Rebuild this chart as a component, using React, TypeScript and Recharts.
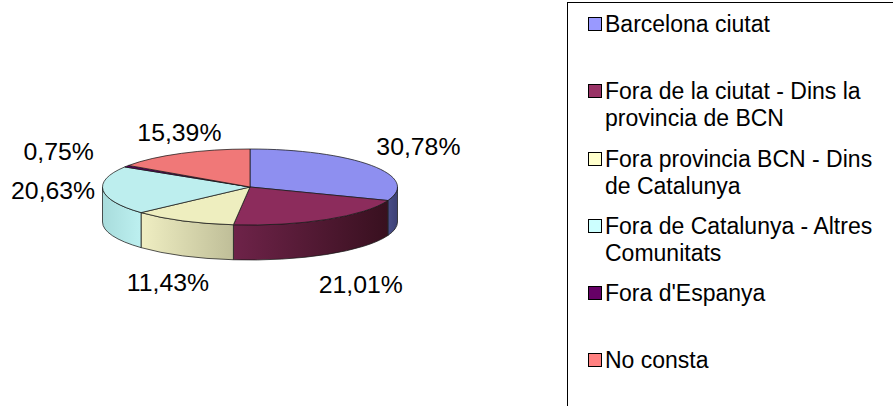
import React from 'react';
import { PieChart, Pie, Legend } from 'recharts';

const categories = [
  'Barcelona ciutat',
  'Fora de la ciutat - Dins la provincia de BCN',
  'Fora provincia BCN - Dins de Catalunya',
  'Fora de Catalunya - Altres Comunitats',
  "Fora d'Espanya",
  'No consta',
];
const shares = [30.78, 21.01, 11.43, 20.63, 0.75, 15.39];

const topColors = ['#8e8ff0', '#8c2c5c', '#eeeebf', '#bdeeee', '#5c005c', '#f07878'];
const legendColors = ['#9999ff', '#993366', '#ffffcc', '#ccffff', '#660066', '#ff8080'];
// wall shading, left to right
const wallColors = [
  ['#4a4e88', '#3c4074'],
  ['#6e2349', '#38101f'],
  ['#efeec2', '#bfbe98'],
  ['#a8dcdc', '#bdf0f0'],
  ['#3a003a', '#3a003a'],
  ['#903030', '#903030'],
];
// how far each percentage sits from the rim of the pie
const labelNudge = [
  [47, -19],
  [34, 65],
  [-15, 62],
  [-50, 0],
  [-68, -15],
  [-2, -21],
];

const data = categories.map((name, i) => ({ name, value: shares[i] }));

const CX = 250;
const CY = 187;
const RX = 147.5;
const RY = 38;
const DEPTH = 35;
const FONT = '"Liberation Sans", Arial, sans-serif';

const rad = (a: number) => (a * Math.PI) / 180;
const ptX = (a: number) => CX + RX * Math.cos(rad(a));
const ptY = (a: number, dy = 0) => CY - RY * Math.sin(rad(a)) + dy;

const Slice3D = (props: any) => {
  const { startAngle, endAngle, index } = props;
  const large = startAngle - endAngle > 180 ? 1 : 0;
  const top = `M${CX},${CY} L${ptX(startAngle)},${ptY(startAngle)} A${RX},${RY} 0 ${large} 1 ${ptX(endAngle)},${ptY(endAngle)} Z`;
  // only the front half of the rim has a visible wall
  const hi = Math.min(startAngle, 0);
  const lo = Math.max(endAngle, -180);
  const wall =
    hi > lo
      ? `M${ptX(hi)},${ptY(hi)} A${RX},${RY} 0 0 1 ${ptX(lo)},${ptY(lo)} L${ptX(lo)},${ptY(lo, DEPTH)} A${RX},${RY} 0 0 0 ${ptX(hi)},${ptY(hi, DEPTH)} Z`
      : null;
  return (
    <g>
      {wall && <path d={wall} fill={`url(#wall${index})`} stroke="#1a1a1a" strokeWidth={0.75} />}
      <path d={top} fill={topColors[index]} stroke="#1a1a1a" strokeWidth={0.75} />
    </g>
  );
};

const renderLabel = (props: any) => {
  const { midAngle, index, value } = props;
  const [dx, dy] = labelNudge[index];
  return (
    <text
      x={ptX(midAngle) + dx}
      y={ptY(midAngle) + dy}
      textAnchor="middle"
      dominantBaseline="central"
      fontFamily={FONT}
      fontSize={24.8}
      fill="#000"
    >
      {value.toFixed(2).replace('.', ',')}%
    </text>
  );
};

const renderLegend = () => (
  <div
    style={{
      width: 400,
      height: 500,
      boxSizing: 'border-box',
      border: '1px solid #000',
      padding: '8px 0 0 20px',
      fontFamily: FONT,
      fontSize: 23,
      lineHeight: '27px',
      color: '#000',
    }}
  >
    {categories.map((name, i) => (
      <div key={name} style={{ height: 67.3, display: 'flex' }}>
        <span
          style={{
            width: 14,
            height: 14,
            boxSizing: 'border-box',
            marginTop: 6,
            marginRight: 3,
            flex: 'none',
            background: legendColors[i],
            border: '1.5px solid #000',
          }}
        />
        <span style={{ width: 282 }}>{name}</span>
      </div>
    ))}
  </div>
);

export default function App() {
  return (
    <div style={{ position: 'absolute', left: 0, top: 0, width: 893, height: 406, overflow: 'hidden', background: '#fff' }}>
      <PieChart width={893} height={406} margin={{ top: 0, right: 0, bottom: 0, left: 0 }}>
        <defs>
          {wallColors.map((c, i) => (
            <linearGradient key={i} id={`wall${i}`} x1="0" y1="0" x2="1" y2="0">
              <stop offset="0%" stopColor={c[0]} />
              <stop offset="100%" stopColor={c[1]} />
            </linearGradient>
          ))}
        </defs>
        <Pie
          data={data}
          dataKey="value"
          nameKey="name"
          cx={CX}
          cy={CY}
          outerRadius={RX}
          startAngle={90}
          endAngle={-270}
          shape={Slice3D}
          label={renderLabel}
          labelLine={false}
          isAnimationActive={false}
        />
        <Legend
          content={renderLegend}
          layout="vertical"
          wrapperStyle={{ position: 'absolute', left: 567, top: 2, width: 400, height: 500 }}
        />
      </PieChart>
    </div>
  );
}
